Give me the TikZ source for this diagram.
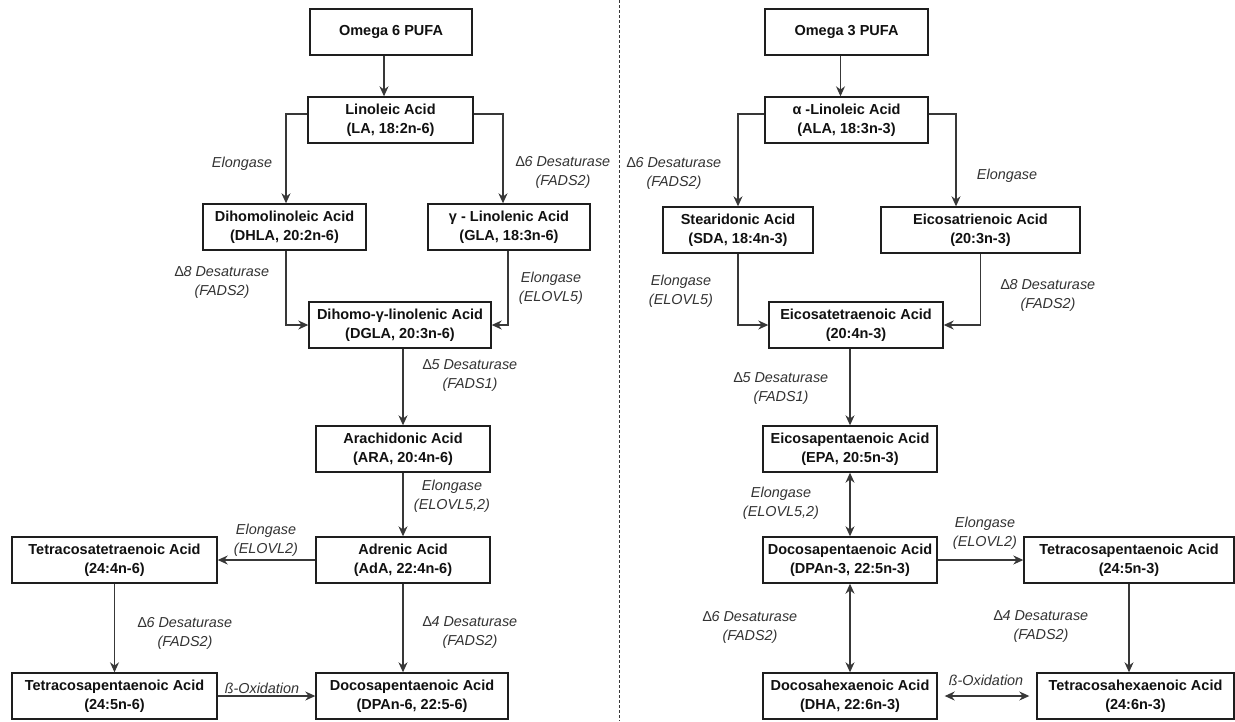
\documentclass[tikz,border=0pt]{standalone}
\usepackage{fontspec}
\setmainfont{Liberation Sans}
\usetikzlibrary{arrows.meta}
\definecolor{boxline}{HTML}{1E1E1E}
\definecolor{conn}{HTML}{383838}
\definecolor{labtext}{HTML}{333333}
\definecolor{boxtext}{HTML}{111111}
\newcommand{\dlt}{{\upshape ∆}}
\tikzset{
  box/.style={draw=boxline, line width=1.4pt, inner sep=0pt, align=center,
    text=boxtext, font=\bfseries\fontsize{14.5}{19}\selectfont, minimum height=46pt},
  lab/.style={inner sep=0pt, align=center, text=labtext,
    font=\itshape\fontsize{14.4}{19}\selectfont},
  conn/.style={draw=conn, line width=1.1pt, -{Stealth[length=10pt,width=9pt]}},
  dconn/.style={draw=conn, line width=1.1pt, {Stealth[length=10pt,width=9pt]}-{Stealth[length=10pt,width=9pt]}},
}
\begin{document}
\begin{tikzpicture}[x=1pt,y=-1pt]
\useasboundingbox[fill=white] (0,0) rectangle (1235,721);
% divider
\draw[draw=conn, line width=0.9pt, dash pattern=on 3pt off 2pt] (619,0) -- (619,721);

% ---------- Omega 6 ----------
\node[box, minimum width=162] (o6) at (391,32) {Omega 6 PUFA};
\node[box, minimum width=165] (la) at (390.5,120) {Linoleic Acid\\(LA, 18:2n-6)};
\node[box, minimum width=163] (dhla) at (284.5,227) {Dihomolinoleic Acid\\(DHLA, 20:2n-6)};
\node[box, minimum width=162] (gla) at (509,227) {γ - Linolenic Acid\\(GLA, 18:3n-6)};
\node[box, minimum width=182] (dgla) at (400,325) {Dihomo-γ-linolenic Acid\\(DGLA, 20:3n-6)};
\node[box, minimum width=174] (ara) at (403,449) {Arachidonic Acid\\(ARA, 20:4n-6)};
\node[box, minimum width=174] (ada) at (403,560) {Adrenic Acid\\(AdA, 22:4n-6)};
\node[box, minimum width=205] (tta) at (114.5,560) {Tetracosatetraenoic Acid\\(24:4n-6)};
\node[box, minimum width=205] (tpa6) at (114.5,696) {Tetracosapentaenoic Acid\\(24:5n-6)};
\node[box, minimum width=192] (dpa6) at (412,696) {Docosapentaenoic Acid\\(DPAn-6, 22:5-6)};

\draw[conn] ([xshift=-7pt]o6.south) -- ([xshift=-7pt]o6.south |- la.north);
\draw[conn] ([yshift=6pt]la.west) -| ([xshift=1.5pt]dhla.north);
\draw[conn] ([yshift=6pt]la.east) -| ([xshift=-6pt]gla.north);
\draw[conn] ([xshift=1.5pt]dhla.south) |- (dgla.west);
\draw[conn] ([xshift=-1pt]gla.south) |- (dgla.east);
\draw[conn] (ara.north |- dgla.south) -- (ara.north);
\draw[conn] (ara.south) -- (ada.north);
\draw[conn] (ada.west) -- (tta.east);
\draw[conn] (tta.south) -- (tpa6.north);
\draw[conn] (ada.south) -- (ada.south |- dpa6.north);
\draw[conn] (tpa6.east) -- (dpa6.west);

\node[lab] (l1) at (242,164) {Elongase};
\node[lab] (l2) at (563,172) {\dlt6 Desaturase\\(FADS2)};
\node[lab] (l3) at (222,282) {\dlt8 Desaturase\\(FADS2)};
\node[lab] (l4) at (551,288) {Elongase\\(ELOVL5)};
\node[lab] (l5) at (470,376) {\dlt5 Desaturase\\(FADS1)};
\node[lab] (l6) at (452,496) {Elongase\\(ELOVL5,2)};
\node[lab] (l7) at (266,540) {Elongase\\(ELOVL2)};
\node[lab] (l8) at (185,633) {\dlt6 Desaturase\\(FADS2)};
\node[lab] (l9) at (470,633) {\dlt4 Desaturase\\(FADS2)};
\node[lab] (l10) at (262,688) {ß-Oxidation};

% ---------- Omega 3 ----------
\node[box, minimum width=163] (o3) at (846.5,32) {Omega 3 PUFA};
\node[box, minimum width=163] (ala) at (846.5,120) {α -Linoleic Acid\\(ALA, 18:3n-3)};
\node[box, minimum width=150] (sda) at (738,230) {Stearidonic Acid\\(SDA, 18:4n-3)};
\node[box, minimum width=199] (eta) at (980.5,230) {Eicosatrienoic Acid\\(20:3n-3)};
\node[box, minimum width=174] (ete) at (856,325) {Eicosatetraenoic Acid\\(20:4n-3)};
\node[box, minimum width=174] (epa) at (850,449) {Eicosapentaenoic Acid\\(EPA, 20:5n-3)};
\node[box, minimum width=174] (dpa3) at (850,560) {Docosapentaenoic Acid\\(DPAn-3, 22:5n-3)};
\node[box, minimum width=210] (tpa3) at (1129,560) {Tetracosapentaenoic Acid\\(24:5n-3)};
\node[box, minimum width=174] (dha) at (850,696) {Docosahexaenoic Acid\\(DHA, 22:6n-3)};
\node[box, minimum width=197] (tha) at (1135.5,696) {Tetracosahexaenoic Acid\\(24:6n-3)};

\draw[conn] ([xshift=-6pt]o3.south) -- ([xshift=-6pt]o3.south |- ala.north);
\draw[conn] ([yshift=6pt]ala.west) -| (sda.north);
\draw[conn] ([yshift=6pt]ala.east) -| ([xshift=-24.5pt]eta.north);
\draw[conn] (sda.south) |- (ete.west);
\draw[conn] (eta.south) |- (ete.east);
\draw[conn] (epa.north |- ete.south) -- (epa.north);
\draw[dconn] (epa.south) -- (dpa3.north);
\draw[conn] (dpa3.east) -- (tpa3.west);
\draw[dconn] (dpa3.south) -- (dha.north);
\draw[conn] (tpa3.south) -- (tpa3.south |- tha.north);
\draw[dconn, shorten <=7pt, shorten >=7pt] (dha.east) -- (tha.west);

\node[lab] (r1) at (674,173) {\dlt6 Desaturase\\(FADS2)};
\node[lab] (r2) at (1007,176) {Elongase};
\node[lab] (r3) at (681,291) {Elongase\\(ELOVL5)};
\node[lab] (r4) at (1048,295) {\dlt8 Desaturase\\(FADS2)};
\node[lab] (r5) at (781,389) {\dlt5 Desaturase\\(FADS1)};
\node[lab] (r6) at (781,503) {Elongase\\(ELOVL5,2)};
\node[lab] (r7) at (985,533) {Elongase\\(ELOVL2)};
\node[lab] (r8) at (750,627) {\dlt6 Desaturase\\(FADS2)};
\node[lab] (r9) at (1041,627) {\dlt4 Desaturase\\(FADS2)};
\node[lab] (r10) at (986,680) {ß-Oxidation};
\end{tikzpicture}
\end{document}
